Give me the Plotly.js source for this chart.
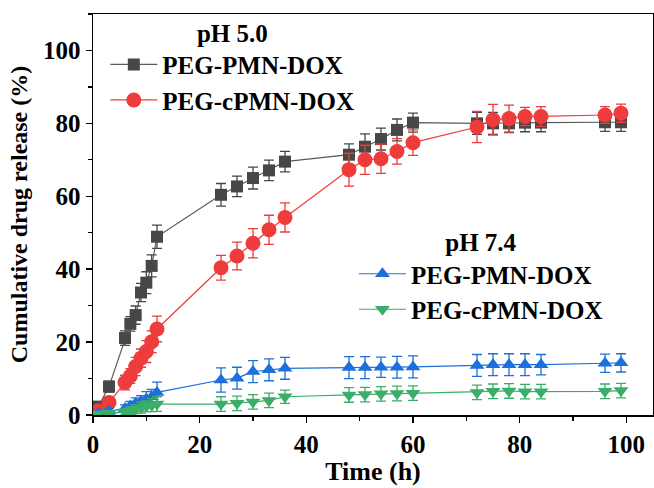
<!DOCTYPE html>
<html>
<head>
<meta charset="utf-8">
<script src="https://cdn.plot.ly/plotly-3.0.1.min.js"></script>
<style>html,body{margin:0;padding:0;background:#fff;}</style>
</head>
<body>
<div id="chart" style="width:654px;height:488px;"></div>
<script>
// Time points (h)
const time = [0,1,3,6,7,8,9,10,11,12,24,27,30,33,36,48,51,54,57,60,72,75,78,81,84,96,99];

// pH 5.0
const pmn55 = [0,2.3,7.8,21.1,25.0,27.4,33.6,36.3,40.9,48.9,60.4,62.7,65.0,67.1,69.5,71.4,73.6,75.7,78.2,80.2,80.0,80.0,80.0,80.2,80.2,80.3,80.3];
const pmn55Err = [0.5,1,1.5,2,2,2.5,2.5,3,3,3.2,3.1,2.8,3,2.8,2.8,3,3.5,3,3,2.6,3,3,2.5,2.5,2.5,2.5,2.5];
const cpmn55 = [0,1.2,3.4,8.9,10.7,13.3,15.6,17.4,20.1,23.6,40.4,43.6,47.1,50.8,54.2,67.3,70.0,70.3,72.3,74.7,79.0,81.0,81.3,81.9,81.9,82.3,82.8];
const cpmn55Err = [0.5,1,1.5,2,2,2.5,2.5,3,3,3.5,3.4,3.8,4,4,4,4.5,4,4,3.5,3.5,4.3,4.2,3.7,2.5,2.7,2.3,2.5];

// pH 7.4
const pmn74 = [0,0.5,1.0,1.8,2.5,3.2,3.8,4.4,5.0,6.2,9.6,10.1,11.9,12.4,12.8,13.0,13.0,13.1,13.1,13.2,13.6,13.8,13.8,13.8,13.8,14.2,14.3];
const pmn74Err = [0.3,0.5,0.8,1,1.2,1.5,1.5,2,2,2.8,3.3,3,3,3,3,3,3,2.8,3,3,3,3,3,3,2.8,2.5,2.5];
const cpmn74 = [0,0.3,0.5,0.8,1.2,1.6,2.0,2.4,2.7,3.0,3.0,3.2,3.6,4.0,5.0,5.5,5.6,5.8,5.9,6.0,6.2,6.5,6.6,6.4,6.4,6.5,6.7];
const cpmn74Err = [0.2,0.3,0.5,0.8,1,1.2,1.5,1.5,1.8,2,2,2,2,2,1.8,2,2,2,2,2,2,2,2,2,2,2,2];

const names = ['PEG-PMN-DOX','PEG-cPMN-DOX'];
const legendTitles = ['pH 5.0','pH 7.4'];

const serif = 'Liberation Serif, Times New Roman, serif';

function tr(y, err, name, color, lineColor, symbol, size, legend) {
  return {
    x: time, y: y, name: name, type: 'scatter', mode: 'lines+markers',
    legend: legend,
    line: {color: lineColor, width: 1.2},
    marker: {symbol: symbol, size: size, color: color},
    error_y: {type: 'data', array: err, visible: true, color: color, thickness: 1.3, width: 5}
  };
}

const data = [
  tr(pmn55, pmn55Err, names[0], '#474747', '#5a5a5a', 'square', 12, 'legend'),
  tr(cpmn55, cpmn55Err, names[1], '#ee3b3b', '#ee3b3b', 'circle', 15, 'legend'),
  tr(pmn74, pmn74Err, names[0], '#1c6fdc', '#1c6fdc', 'triangle-up', 13, 'legend2'),
  tr(cpmn74, cpmn74Err, names[1], '#3aae69', '#3aae69', 'triangle-down', 13, 'legend2')
];

const axisCommon = {
  showline: true, linecolor: '#000', linewidth: 1.5, mirror: true,
  ticks: 'outside', ticklen: 6, tickwidth: 1.5, tickcolor: '#000',
  showgrid: false, zeroline: false,
  tickfont: {family: serif, size: 25, color: '#000', weight: 'bold'},
  minor: {ticks: 'outside', ticklen: 4, tickwidth: 1.2, tickcolor: '#000', dtick: 10, showgrid: false}
};

const legendFont = {family: serif, size: 25, color: '#000', weight: 'bold'};
const legendTitleFont = {family: serif, size: 25, color: '#000', weight: 'bold'};

const layout = {
  width: 654, height: 488,
  margin: {l: 93, r: 1, t: 14, b: 73},
  paper_bgcolor: '#fff', plot_bgcolor: '#fff',
  showlegend: true,
  xaxis: Object.assign({}, axisCommon, {
    range: [0, 105], dtick: 20, tick0: 0,
    title: {text: 'Time (h)', font: {family: serif, size: 26, color: '#000', weight: 'bold'}, standoff: 3}
  }),
  yaxis: Object.assign({}, axisCommon, {
    range: [0, 110], dtick: 20, tick0: 0,
    title: {text: 'Cumulative drug release (%)', font: {family: serif, size: 24, color: '#000', weight: 'bold'}, standoff: 8}
  }),
  legend: {
    x: 0.022, y: 1.012, xanchor: 'left', yanchor: 'top',
    bgcolor: 'rgba(0,0,0,0)', borderwidth: 0, itemwidth: 47,
    font: legendFont,
    title: {text: legendTitles[0], side: 'top center', font: legendTitleFont},
    tracegroupgap: 0
  },
  legend2: {
    x: 0.466, y: 0.49, xanchor: 'left', yanchor: 'top',
    bgcolor: 'rgba(0,0,0,0)', borderwidth: 0, itemwidth: 47,
    font: legendFont,
    title: {text: legendTitles[1], side: 'top center', font: legendTitleFont},
    tracegroupgap: 0
  }
};

Plotly.newPlot('chart', data, layout, {displayModeBar: false, staticPlot: true});
</script>
</body>
</html>
